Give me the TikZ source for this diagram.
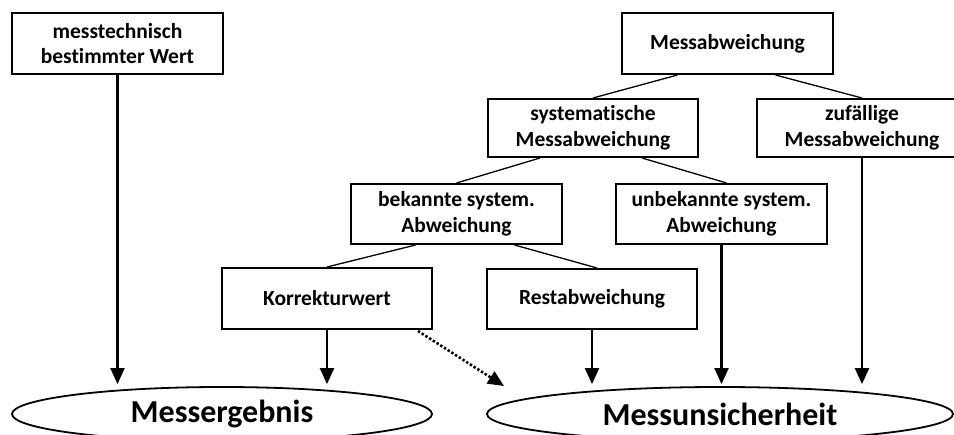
\documentclass[tikz,border=0pt]{standalone}
\usepackage{fontspec}
\setmainfont[Ligatures=NoCommon]{Carlito}
\usetikzlibrary{arrows.meta,calc,shapes.geometric}
\begin{document}
\begin{tikzpicture}[x=1pt,y=-1pt,
  box/.style={draw,line width=2pt,rectangle,align=center,inner sep=0pt,
    font=\bfseries\fontsize{21.5}{25.5}\selectfont},
  oval/.style={draw,line width=1.8pt,ellipse,inner sep=0pt,
    font=\bfseries\fontsize{32}{36}\selectfont},
  tree/.style={line width=1.3pt},
  arr/.style={line width=2.2pt,-{Triangle[length=16pt,width=14pt]}},
  dotarr/.style={line width=2.6pt,dash pattern=on 2.4pt off 2pt,-{Triangle[length=16pt,width=14pt]}}]
\clip (0,0) rectangle (954,435);
\fill[white] (0,0) rectangle (954,435);
% boxes
\node[box,minimum width=211pt,minimum height=61pt] (mw) at (117.5,43.5) {messtechnisch\\bestimmter Wert};
\node[box,minimum width=211pt,minimum height=61pt] (mab) at (727.5,43.5) {Messabweichung};
\node[box,minimum width=210pt,minimum height=58pt] (sys) at (593,128) {systematische\\Messabweichung};
\node[box,minimum width=210pt,minimum height=58pt] (zuf) at (862,128) {zufällige\\Messabweichung};
\node[box,minimum width=211pt,minimum height=60pt] (bek) at (456.5,214) {bekannte system.\\Abweichung};
\node[box,minimum width=211pt,minimum height=60pt] (unb) at (721.5,214) {unbekannte system.\\Abweichung};
\node[box,minimum width=210pt,minimum height=61pt] (kor) at (327,298.5) {Korrekturwert};
\node[box,minimum width=210pt,minimum height=60pt] (rest) at (592,299) {Restabweichung};
% ellipses
\node[oval,minimum width=420pt,minimum height=54pt] (me) at (222,414) {Messergebnis};
\node[oval,minimum width=466pt,minimum height=54pt] (mu) at (720,414) {Messunsicherheit};
% tree lines
\draw[tree] ($(mab.south)+(-50,0)$) -- (sys.north);
\draw[tree] ($(mab.south)+(48,0)$) -- (zuf.north);
\draw[tree] ($(sys.south)+(-53,0)$) -- (bek.north);
\draw[tree] ($(sys.south)+(49,0)$) -- ($(unb.north)+(5,0)$);
\draw[tree] ($(bek.south)+(-41,0)$) -- (kor.north);
\draw[tree] ($(bek.south)+(58,0)$) -- ($(rest.north)+(5,0)$);
% arrows
\draw[arr] (mw.south) -- ($(mw.south |- me.north)+(0,-2)$);
\draw[arr] (kor.south) -- ($(kor.south |- me.north)+(0,-2)$);
\draw[arr] (rest.south) -- ($(rest.south |- mu.north)+(0,-2)$);
\draw[arr] (unb.south) -- ($(unb.south |- mu.north)+(0,-2)$);
\draw[arr] (zuf.south) -- ($(zuf.south |- mu.north)+(0,-2)$);
\coordinate (dotend) at (504,386);
\draw[dotarr] ($(kor.south east)+(-15,1)$) -- (dotend);
\end{tikzpicture}
\end{document}
